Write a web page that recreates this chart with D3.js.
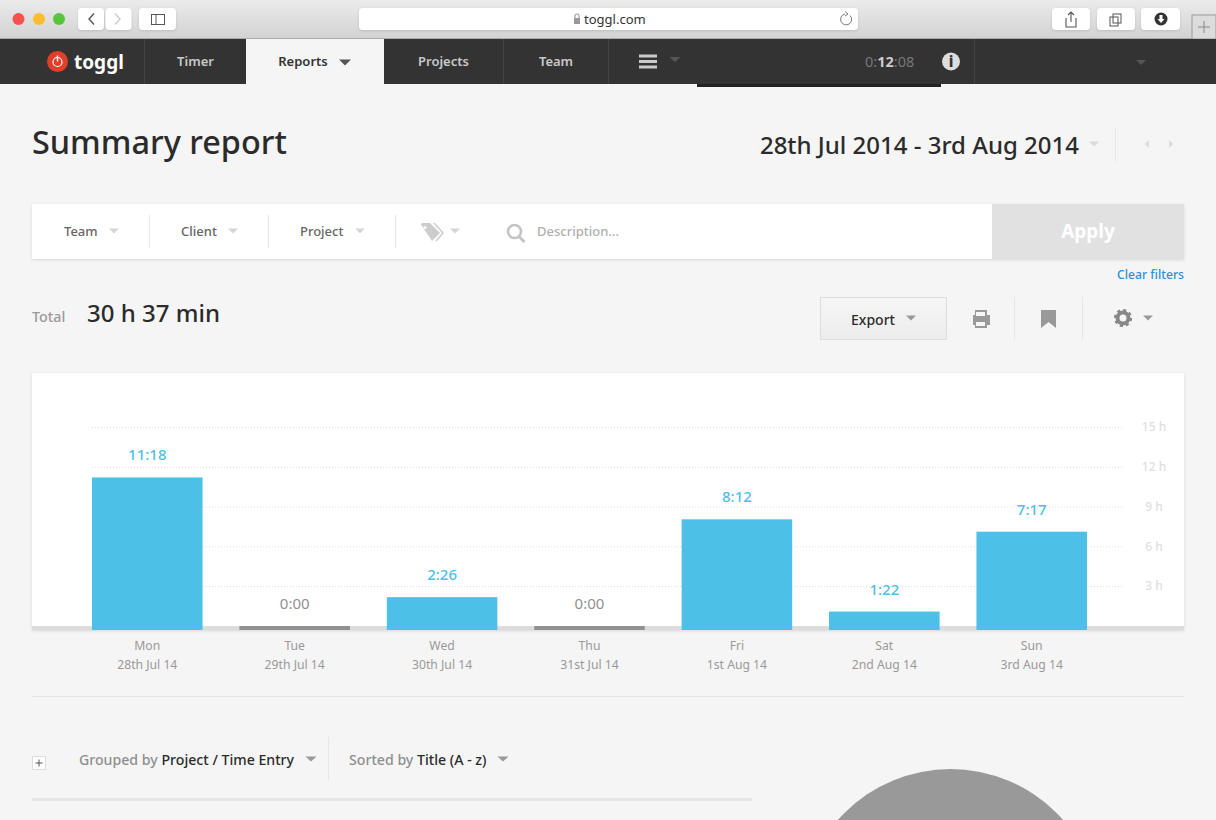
<!DOCTYPE html>
<html><head><meta charset="utf-8">
<style>
html,body{margin:0;padding:0;background:#f5f5f5;overflow:hidden}
svg{display:block}
text{font-family:"Noto Sans",sans-serif}
</style>
<script src="https://cdn.jsdelivr.net/npm/d3@7"></script>
</head><body>
<svg id="c" width="1216" height="820"></svg>
<script>
const days = ["Mon","Tue","Wed","Thu","Fri","Sat","Sun"];
const dates = ["28th Jul 14","29th Jul 14","30th Jul 14","31st Jul 14","1st Aug 14","2nd Aug 14","3rd Aug 14"];
const barLabels = ["11:18","0:00","2:26","0:00","8:12","1:22","7:17"];
const hours = [11.3,0,2.433,0,8.2,1.367,7.283];
const yTicks = [3,6,9,12,15];
const navItems = ["Timer","Reports","Projects","Team"];
const filters = ["Team","Client","Project"];
const pieValues = [30.62];

const svg = d3.select("#c");
const defs = svg.append("defs");
const g1 = defs.append("linearGradient").attr("id","tb").attr("x1",0).attr("x2",0).attr("y1",0).attr("y2",1);
g1.append("stop").attr("offset",0).attr("stop-color","#ebebeb");
g1.append("stop").attr("offset",1).attr("stop-color","#d2d2d2");
const g2 = defs.append("linearGradient").attr("id","ex").attr("x1",0).attr("x2",0).attr("y1",0).attr("y2",1);
g2.append("stop").attr("offset",0).attr("stop-color","#f6f6f6");
g2.append("stop").attr("offset",1).attr("stop-color","#ececec");
const f = defs.append("filter").attr("id","sh").attr("x","-3%").attr("y","-10%").attr("width","106%").attr("height","120%");
f.append("feDropShadow").attr("dx",0).attr("dy",1).attr("stdDeviation",1.5).attr("flood-color","#000").attr("flood-opacity",0.12);

const R=(x,y,w,h,fill,p=svg)=>p.append("rect").attr("x",x).attr("y",y).attr("width",w).attr("height",h).attr("fill",fill);
const T=(x,y,s,size,fill,anchor="start",weight=400,p=svg)=>p.append("text").attr("x",x).attr("y",y).attr("font-size",size).attr("fill",fill).attr("text-anchor",anchor).attr("font-weight",weight).text(s);
const P=(d,fill,stroke,sw)=>svg.append("path").attr("d",d).attr("fill",fill||"none").attr("stroke",stroke||"none").attr("stroke-width",sw||1);
const tri=(cx,cy,w,h,fill)=>P(`M${cx-w/2},${cy-h/2}L${cx+w/2},${cy-h/2}L${cx},${cy+h/2}Z`,fill);
const btn=(x,w)=>R(x,8,w,22,"#fff").attr("rx",4).attr("filter","url(#sh)");

/* browser chrome */
R(0,0,1216,39,"url(#tb)");
R(0,38,1216,1,"#aaa");
[[18.5,"#f4514f"],[39,"#fbbc2e"],[59,"#5ac43f"]].forEach(([x,c])=>svg.append("circle").attr("cx",x).attr("cy",19).attr("r",6).attr("fill",c));
btn(78,26);btn(105.5,26);
btn(139,37);
R(359,8,499,22,"#fff").attr("rx",4).attr("filter","url(#sh)");
P("M94,13.5L89,19L94,24.5",null,"#555",1.4);
P("M115,13.5L120,19L115,24.5",null,"#ccc",1.4);
R(151.5,14.5,13,10,"none").attr("stroke","#555");P("M156,14.5V24.5",null,"#555");
T(584,24,"toggl.com",13,"#333").attr("font-family","Liberation Sans");
R(574,18,6,6,"#999");P("M575,18V16A2,2 0 0 1 579,16V18",null,"#999",1.1);
P("M850,15.5A5.5,5.5 0 1 1 845,14",null,"#777",1);P("M845,11.5L848,14L845,16",null,"#777",1);
[[1052,38],[1097,38],[1141,39]].forEach(([x,w])=>btn(x,w));
P("M1066,18V27H1076V18M1071,22V12M1068,15L1071,12L1074,15",null,"#555",1.1);
R(1110,17,8,9,"#fff").attr("stroke","#555");R(1113,14,8,9,"none").attr("stroke","#555");
svg.append("circle").attr("cx",1161).attr("cy",19).attr("r",6.5).attr("fill","#333");
P("M1159.5,15H1162.5V19H1164.5L1161,23L1157.5,19H1159.5Z","#fff");
R(1192,15,24,24,"#dcdcdc").attr("stroke","#999");
P("M1198,27H1210M1204,21V33",null,"#888",1);

/* app nav */
R(0,39,1216,45,"#333");
R(697,84,244,3,"#222");
[[144],[503],[608],[974]].forEach(([x])=>R(x,39,1,45,"#444"));
R(246,39,138,45,"#f5f5f5");
svg.append("circle").attr("cx",57.5).attr("cy",61.5).attr("r",10.5).attr("fill","#e0402a");
svg.append("circle").attr("cx",57.5).attr("cy",62).attr("r",4.5).attr("fill","none").attr("stroke","#fff").attr("stroke-width",1.2);
R(56.8,55.5,1.4,6,"#fff");
T(74,69,"toggl",19,"#fff","start",700);
const navX=[195.5,303,443.5,556];
navItems.forEach((n,i)=>T(navX[i],66,n,13,i==1?"#333":"#c9c9c9","middle",600));
tri(345,62.5,12,6,"#555");
[55,60.5,66].forEach(y=>R(639,y-0.5,18,3,"#ccc"));
tri(675,59.5,11,5,"#555");
const tm=T(865,66.5,"",14.5,"#777").attr("font-family","Liberation Sans");
tm.append("tspan").text("0:");tm.append("tspan").attr("fill","#ccc").attr("font-weight",700).text("12");tm.append("tspan").text(":08");
svg.append("circle").attr("cx",951).attr("cy",61.5).attr("r",9).attr("fill","#ddd");
T(951,67,"i",15,"#333","middle",800);
tri(1141,62.5,10,5,"#555");

/* header */
T(32,154,"Summary report",32.4,"#2b2b2b","start",500);
T(1079,154,"28th Jul 2014 - 3rd Aug 2014",24,"#2b2b2b","end",500);
tri(1094,144,10,5,"#dcdcdc");
R(1115,127,1,35,"#e8e8e8");
P("M1149,140L1144.5,144L1149,148Z","#dcdcdc");P("M1169,140L1173.5,144L1169,148Z","#dcdcdc");

/* filter bar */
R(32,204,1152,55,"#fff").attr("filter","url(#sh)");
R(992,204,192,55,"#e1e1e1");
T(1088,238,"Apply",19,"#fff","middle",700);
const fx=[64,181,300], ftri=[114,233,360], fdiv=[149,268,395];
filters.forEach((s,i)=>{T(fx[i],236,s,13,"#666","start",500);tri(ftri[i],231,10,5,"#d6d6d6");R(fdiv[i],215,1,33,"#e6e6e6");});
P("M421,224.5Q421,223 423,223H430L440,233L432,241Z","#ccc");
svg.append("circle").attr("cx",425).attr("cy",227.5).attr("r",1.6).attr("fill","#fff");
P("M434,223L443,233L436,241",null,"#ccc",1.5);
tri(455,231,10,5,"#d6d6d6");
svg.append("circle").attr("cx",514.5).attr("cy",231.5).attr("r",6.5).attr("fill","none").attr("stroke","#c4c4c4").attr("stroke-width",2.6);
P("M519,236.5L524.5,242",null,"#c4c4c4",3);
T(537,236,"Description...",13,"#b0b0b0","start",500);
T(1184,279,"Clear filters",12.2,"#2b8fe0","end",500);

/* totals row */
T(32,322,"Total",14.3,"#999","start",500);
T(87,322,"30 h 37 min",24,"#2b2b2b","start",500);
R(820.5,297.5,126,42,"url(#ex)").attr("stroke","#dcdcdc");
T(873,325,"Export",14,"#2b2b2b","middle",500);
tri(911,318,10,5,"#999");
P("M973,315H975V310H987V315H990V325H987V328H975V325H973Z","#999");
R(976,312,9,4,"#f5f5f5");R(976,322,9,4,"#f5f5f5");
R(1014,297,1,43,"#e6e6e6");R(1082,297,1,43,"#e6e6e6");
P("M1041,310H1056V328L1048.5,322L1041,328Z","#999");
svg.append("circle").attr("cx",1123).attr("cy",318).attr("r",5.5).attr("fill","none").attr("stroke","#888").attr("stroke-width",4);
svg.append("circle").attr("cx",1123).attr("cy",318).attr("r",8).attr("fill","none").attr("stroke","#888").attr("stroke-width",2.2).attr("stroke-dasharray","3.1 3.18");
tri(1148,318,10,5,"#999");

/* chart card */
R(32,373,1152,257,"#fff").attr("filter","url(#sh)");
R(32,626,1152,4,"#dcdcdc");

const x = d3.scaleBand().domain(days).range([92,1087]).paddingInner(0.25).paddingOuter(0);
const yGrid = d3.scaleLinear().domain([0,15]).range([625.75,427]);
const yBar = d3.scaleLinear().domain([0,15]).range([630,427.5]);

const axis = svg.append("g").attr("transform","translate(1124,0)")
  .call(d3.axisRight(yGrid).tickValues(yTicks).tickSize(0).tickPadding(30).tickFormat(d=>d+" h"));
axis.select(".domain").remove();
axis.selectAll("text").attr("font-size",12).attr("fill","#dedede").attr("font-family","Noto Sans").attr("font-weight",500).attr("text-anchor","middle");
axis.selectAll(".tick").append("line").attr("x1",-1032).attr("x2",0).attr("y1",0).attr("y2",0)
  .attr("stroke","#dcdcdc").attr("stroke-dasharray","1 2");

svg.selectAll(".bar").data(days).join("rect").attr("class","bar")
  .attr("x",d=>x(d)).attr("width",x.bandwidth())
  .attr("y",(d,i)=>hours[i]>0?yBar(hours[i]):626)
  .attr("height",(d,i)=>hours[i]>0?630-yBar(hours[i]):4)
  .attr("fill",(d,i)=>hours[i]>0?"#4dc0e8":"#919191");

svg.selectAll(".val").data(days).join("text").attr("class","val")
  .attr("x",d=>x(d)+x.bandwidth()/2)
  .attr("y",(d,i)=>hours[i]>0?yBar(hours[i])-17:609)
  .attr("text-anchor","middle").attr("font-size",15).attr("font-weight",(d,i)=>hours[i]>0?500:400)
  .attr("fill",(d,i)=>hours[i]>0?"#4dc0e8":"#919191")
  .text((d,i)=>barLabels[i]);
svg.selectAll(".day").data(days).join("text").attr("class","day")
  .attr("x",d=>x(d)+x.bandwidth()/2).attr("y",650).attr("text-anchor","middle")
  .attr("font-size",12.2).attr("fill","#999").text(d=>d);
svg.selectAll(".date").data(days).join("text").attr("class","date")
  .attr("x",d=>x(d)+x.bandwidth()/2).attr("y",669).attr("text-anchor","middle")
  .attr("font-size",12.2).attr("fill","#999").text((d,i)=>dates[i]);

R(32,696,1152,1,"#e4e4e4");

/* grouping row */
R(32.5,756.5,13,13,"#fff").attr("stroke","#ddd");
P("M35.5,763H42.5M39,759.5V766.5",null,"#555",1);
const gb=T(79,765,"",14.15,"#8f8f8f","start",500);
gb.append("tspan").text("Grouped by ");gb.append("tspan").attr("fill","#2b2b2b").text("Project / Time Entry");
tri(311,759,11,5,"#999");
R(328,737,1,43,"#e6e6e6");
const sb=T(349,765,"",14.15,"#8f8f8f","start",500);
sb.append("tspan").text("Sorted by ");sb.append("tspan").attr("fill","#2b2b2b").text("Title (A - z)");
tri(503,759,11,5,"#999");
R(32,798,720,3,"#e6e6e6");

/* pie */
const arc=d3.arc().innerRadius(0).outerRadius(150);
svg.append("g").attr("transform","translate(950.5,919)").selectAll("path")
  .data(d3.pie().sort(null)(pieValues)).join("path").attr("d",arc).attr("fill","#999");
</script>
</body></html>
